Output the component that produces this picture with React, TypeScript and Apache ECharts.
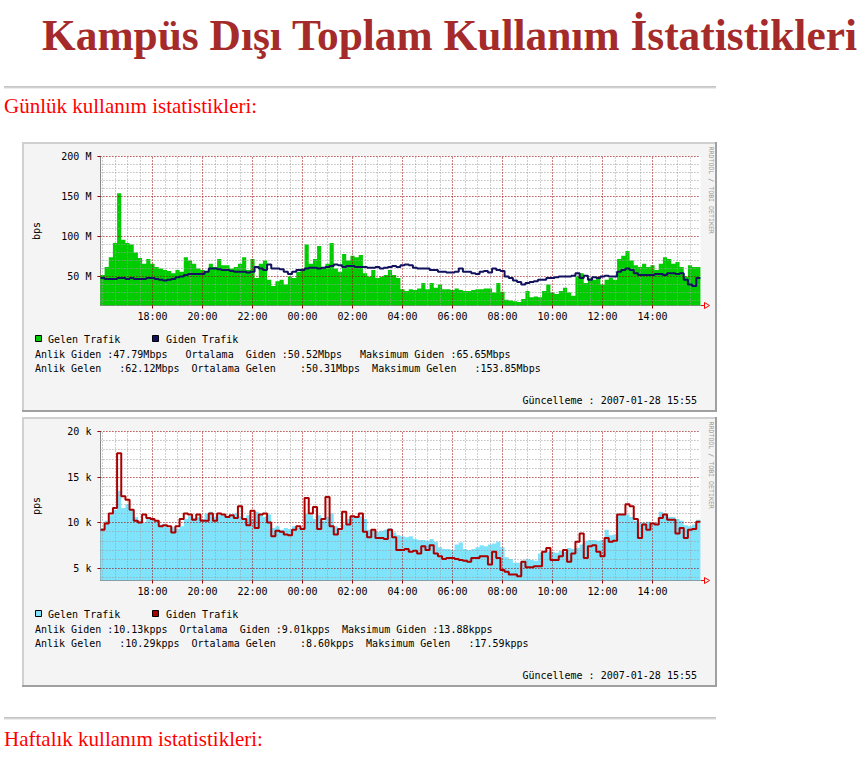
import React, { useEffect, useRef } from 'react';
import * as echarts from 'echarts';

const MONO = '"DejaVu Sans Mono", monospace';
const SERIF = '"Liberation Serif", "Times New Roman", serif';
const CHAR_W = 6.02;

// time axis in minutes since 00:00 of the first day (15:55 .. 15:55 next day)
const START_MIN = 955;
const STEP_MIN = 10;
const END_MIN = 2395;

const xTickLabels = ['18:00', '20:00', '22:00', '00:00', '02:00', '04:00', '06:00', '08:00', '10:00', '12:00', '14:00'];
const bpsTicks = [50, 100, 150, 200];
const ppsTicks = [5, 10, 15, 20];

const pageTitle = 'Kampüs Dışı Toplam Kullanım İstatistikleri';
const dailyHeading = 'Günlük kullanım istatistikleri:';
const weeklyHeading = 'Haftalık kullanım istatistikleri:';
const legendNames = ['Gelen Trafik', 'Giden Trafik'];
const updatedText = 'Güncelleme : 2007-01-28 15:55';
const watermark = 'RRDTOOL / TOBI OETIKER';

const bpsStats = [
  'Anlik Giden :47.79Mbps   Ortalama  Giden :50.52Mbps   Maksimum Giden :65.65Mbps',
  'Anlik Gelen   :62.12Mbps  Ortalama Gelen    :50.31Mbps  Maksimum Gelen   :153.85Mbps',
];
const ppsStats = [
  'Anlik Giden :10.13kpps  Ortalama  Giden :9.01kpps  Maksimum Giden :13.88kpps',
  'Anlik Gelen   :10.29kpps  Ortalama Gelen    :8.60kpps  Maksimum Gelen   :17.59kpps',
];

// Mbps, 10-minute steps from 15:55
const gelenBps = [
  52, 62, 74, 92, 154, 96, 92, 90, 80, 73,
  66, 72, 66, 62, 60, 58, 57, 54, 58, 56,
  74, 70, 66, 60, 58, 56, 66, 62, 72, 64,
  64, 60, 62, 66, 74, 58, 72, 48, 66, 70,
  46, 38, 44, 46, 40, 50, 48, 56, 60, 90,
  66, 72, 88, 62, 66, 92, 60, 56, 78, 70,
  76, 74, 77, 54, 50, 58, 48, 50, 52, 58,
  52, 48, 34, 32, 34, 33, 35, 42, 34, 42,
  36, 40, 34, 34, 33, 35, 33, 32, 32, 33,
  34, 34, 35, 35, 30, 42, 31, 21, 20, 19,
  18, 22, 32, 24, 25, 24, 32, 40, 30, 28,
  32, 36, 30, 26, 50, 54, 42, 48, 46, 50,
  40, 46, 48, 46, 72, 76, 82, 70, 64, 62,
  66, 62, 64, 58, 66, 74, 72, 66, 68, 62,
  50, 64, 62, 62,
];
const gidenBps = [
  48, 47, 47, 47, 48, 48, 47, 48, 47, 47, 47, 48,
  48, 47, 46, 45, 46, 47, 49, 50, 52, 53, 53, 53,
  53, 56, 60, 60, 59, 58, 58, 57, 56, 56, 56, 55,
  56, 62, 60, 58, 65, 60, 60, 59, 56, 53, 56, 58,
  58, 60, 61, 61, 60, 61, 62, 63, 65, 64, 62, 63,
  63, 62, 62, 62, 61, 61, 62, 60, 61, 62, 63, 62,
  64, 65, 64, 61, 60, 60, 60, 58, 58, 56, 56, 55,
  55, 56, 60, 56, 56, 54, 53, 56, 57, 55, 60, 58,
  57, 50, 48, 45, 43, 40, 42, 43, 44, 46, 46, 48,
  48, 49, 50, 50, 50, 51, 54, 48, 51, 46, 49, 48,
  50, 51, 50, 50, 56, 58, 60, 58, 54, 52, 52, 52,
  52, 53, 53, 52, 54, 54, 53, 54, 46, 40, 38, 48,
];
// kpps
const gelenPps = [
  9.4, 10.2, 10.8, 11.4, 13.5, 11.6, 12.0, 11.4, 10.6, 10.2,
  10.0, 10.4, 10.3, 10.2, 9.8, 9.6, 9.4, 9.5, 9.3, 9.6,
  10.4, 10.7, 10.5, 10.6, 10.4, 11.0, 11.2, 10.6, 10.8, 10.8,
  10.6, 10.8, 11.0, 10.7, 10.5, 10.8, 10.4, 11.2, 11.0, 10.6,
  10.9, 9.4, 9.6, 9.2, 9.4, 9.3, 9.6, 9.4, 9.5, 11.0,
  10.8, 10.4, 10.8, 10.2, 10.6, 11.0, 9.6, 9.4, 9.8, 10.4,
  10.6, 10.6, 10.7, 10.4, 9.2, 9.1, 9.0, 9.1, 9.2, 9.4,
  8.9, 8.6, 8.5, 8.4, 8.5, 8.2, 8.1, 8.1, 8.0, 8.2,
  7.9, 7.3, 7.1, 7.1, 7.0, 7.6, 7.8, 7.1, 7.0, 7.1,
  7.3, 7.5, 7.4, 7.6, 7.7, 7.9, 7.3, 6.2, 6.0, 5.6,
  5.6, 5.8, 6.0, 5.9, 5.8, 6.6, 6.8, 6.8, 6.8, 6.7,
  6.9, 6.8, 7.2, 7.1, 7.2, 7.6, 8.0, 8.1, 8.1, 8.0,
  8.1, 9.2, 8.6, 8.7, 10.8, 10.9, 10.9, 10.6, 10.2, 10.0,
  10.0, 10.1, 9.9, 10.0, 11.2, 11.0, 10.6, 10.6, 10.4, 10.2,
  9.7, 9.6, 9.8, 10.3,
];
const gidenPps = [
  9.2, 9.9, 11.0, 11.6, 17.6, 12.9, 12.5, 11.4, 10.2, 10.0,
  10.9, 10.5, 10.4, 10.2, 9.6, 9.7, 9.6, 8.9, 9.6, 10.4,
  11.0, 10.9, 10.3, 10.9, 10.2, 10.2, 11.0, 10.2, 11.0, 10.9,
  10.6, 10.8, 10.5, 11.8, 10.4, 9.7, 11.3, 9.4, 10.9, 11.0,
  10.0, 8.5, 9.1, 9.0, 8.7, 8.6, 9.2, 9.6, 9.3, 12.7,
  11.0, 11.7, 9.3, 10.4, 12.8, 9.6, 8.7, 9.3, 11.2, 9.8,
  10.7, 10.6, 11.0, 9.0, 8.4, 9.2, 8.3, 8.3, 8.2, 9.2,
  8.4, 7.0, 7.0, 7.1, 6.8, 6.9, 6.6, 7.4, 7.0, 7.5,
  6.6, 6.3, 6.0, 6.1, 6.1, 6.0, 5.9, 5.8, 5.7, 6.1,
  6.1, 6.3, 6.3, 5.4, 6.8, 6.1, 4.8, 4.6, 4.3, 4.3,
  4.1, 5.7, 5.1, 5.1, 5.2, 5.2, 6.8, 7.2, 5.9, 5.9,
  6.3, 7.0, 5.7, 6.6, 7.9, 8.8, 6.1, 7.4, 7.5, 6.8,
  6.3, 8.3, 7.9, 8.0, 10.9, 10.9, 12.0, 11.8, 10.4, 8.3,
  9.8, 9.2, 9.9, 9.8, 10.5, 10.9, 10.3, 10.3, 8.8, 9.4,
  8.3, 9.2, 9.3, 10.1,
];

const COLORS = {
  green: '#00cc00',
  navy: '#12125e',
  cyan: '#7fe3fb',
  red: '#aa0000',
};

const xTickValues = xTickLabels.map((l) => {
  const m = parseInt(l, 10) * 60;
  return m < START_MIN ? m + 1440 : m;
});

function toSteps(vals: number[]) {
  const pts: number[][] = vals.map((v, i) => [START_MIN + i * STEP_MIN, v]);
  pts.push([END_MIN, vals[vals.length - 1]]);
  return pts;
}

function gridLineData(yMin: number, yMax: number, yMinor: number, yMajors: number[]) {
  const minor = { color: '#9e9e9e', width: 1, type: [1, 2] };
  const major = { color: '#9a0000', width: 1, type: [1, 2] };
  const data: any[] = [];
  for (let m = 960; m < END_MIN; m += 30) {
    if (!xTickValues.includes(m)) data.push({ xAxis: m, lineStyle: minor });
  }
  const n0 = Math.ceil(yMin / yMinor);
  const n1 = Math.floor(yMax / yMinor);
  for (let n = n0; n <= n1; n++) {
    const v = n * yMinor;
    if (!yMajors.includes(v)) data.push({ yAxis: v, lineStyle: minor });
  }
  xTickValues.forEach((m) => data.push({ xAxis: m, lineStyle: major }));
  yMajors.forEach((v) => data.push({ yAxis: v, lineStyle: major }));
  return data;
}

function txt(x: number, y: number, s: string, extra: any = {}) {
  const align = extra.align || 'left';
  return {
    type: 'text', x, y, z: 10, silent: true,
    rotation: extra.rotation || 0,
    style: {
      text: s,
      fontFamily: extra.fontFamily || MONO,
      fontSize: extra.fontSize || 10,
      fontWeight: extra.fontWeight || 'normal',
      fill: extra.fill || '#000',
      align, textAlign: align,
      verticalAlign: 'middle', textVerticalAlign: 'middle',
    },
  };
}

function monoRow(x0: number, y: number, row: string) {
  const out: any[] = [];
  const re = /\S+/g;
  let m: RegExpExecArray | null;
  while ((m = re.exec(row))) out.push(txt(x0 + m.index * CHAR_W, y, m[0]));
  return out;
}

function ln(x1: number, y1: number, x2: number, y2: number, color: string, w: number, z = -1) {
  return { type: 'line', z, silent: true, shape: { x1, y1, x2, y2 }, style: { stroke: color, lineWidth: w } };
}

function panel(dy: number, c1: string, c2: string, stats: string[]) {
  const els: any[] = [];
  els.push({ type: 'rect', z: -2, silent: true, shape: { x: 22, y: 142 + dy, width: 695, height: 270 }, style: { fill: '#f4f4f4' } });
  els.push(ln(22, 143 + dy, 717, 143 + dy, '#d0d0d0', 2));
  els.push(ln(23, 142 + dy, 23, 412 + dy, '#d0d0d0', 2));
  els.push(ln(22, 411 + dy, 717, 411 + dy, '#a0a0a0', 2));
  els.push(ln(716, 142 + dy, 716, 412 + dy, '#a0a0a0', 2));
  els.push({ type: 'rect', z: 10, silent: true, shape: { x: 35.5, y: 335.5 + dy, width: 6, height: 6 }, style: { fill: c1, stroke: '#000', lineWidth: 1 } });
  els.push(txt(48, 339 + dy, legendNames[0]));
  els.push({ type: 'rect', z: 10, silent: true, shape: { x: 152.5, y: 335.5 + dy, width: 6, height: 6 }, style: { fill: c2, stroke: '#000', lineWidth: 1 } });
  els.push(txt(166, 339 + dy, legendNames[1]));
  els.push(...monoRow(35, 354.5 + dy, stats[0]));
  els.push(...monoRow(35, 368.5 + dy, stats[1]));
  els.push(txt(697, 400 + dy, updatedText, { align: 'right' }));
  els.push(txt(711, 146.5 + dy, watermark, { rotation: -Math.PI / 2, fontSize: 6.6, fill: '#9a9a9a' }));
  els.push({ type: 'polyline', z: 10, silent: true, shape: { points: [[701, 305.5 + dy], [704, 305.5 + dy]] }, style: { stroke: '#ff0000', lineWidth: 1, fill: 'none' } });
  els.push({ type: 'polygon', z: 10, silent: true, shape: { points: [[704.5, 302.5 + dy], [709.5, 305.5 + dy], [704.5, 308.5 + dy]] }, style: { stroke: '#ff0000', lineWidth: 1, fill: '#f4f4f4' } });
  return els;
}

function makeXAxis(gridIndex: number) {
  return {
    type: 'value', gridIndex, min: START_MIN, max: END_MIN,
    axisLine: { show: true, onZero: false, lineStyle: { color: '#888', width: 1 } },
    axisTick: { show: true, customValues: xTickValues, length: 3, lineStyle: { color: '#9a0000' } },
    axisLabel: {
      show: true, customValues: xTickValues, margin: 6,
      formatter: (v: number) => xTickLabels[xTickValues.indexOf(v)] ?? '',
      fontFamily: MONO, fontSize: 10, color: '#000',
    },
    splitLine: { show: false },
  };
}

function makeYAxis(gridIndex: number, min: number, max: number, ticks: number[], unit: string, name: string) {
  return {
    type: 'value', gridIndex, min, max,
    name, nameLocation: 'middle', nameGap: 59, nameRotate: 90,
    nameTextStyle: { fontFamily: MONO, fontSize: 10, color: '#000' },
    axisLine: { show: true, onZero: false, lineStyle: { color: '#888', width: 1 } },
    axisTick: { show: true, customValues: ticks, length: 3, lineStyle: { color: '#9a0000' } },
    axisLabel: {
      show: true, customValues: ticks, margin: 9,
      formatter: (v: number) => `${v} ${unit}`,
      fontFamily: MONO, fontSize: 10, color: '#000',
    },
    splitLine: { show: false },
  };
}

const BPS_MIN = 13.75, BPS_MAX = 200;
const PPS_MIN = 3.64, PPS_MAX = 20;

const markLineBase = { silent: true, symbol: 'none', label: { show: false }, animation: false };

const option: any = {
  animation: false,
  backgroundColor: '#ffffff',
  grid: [
    { left: 100.42, top: 156.5, width: 600, height: 149, show: true, backgroundColor: '#ffffff', borderWidth: 0 },
    { left: 100.42, top: 431.5, width: 600, height: 149, show: true, backgroundColor: '#ffffff', borderWidth: 0 },
  ],
  xAxis: [makeXAxis(0), makeXAxis(1)],
  yAxis: [
    makeYAxis(0, BPS_MIN, BPS_MAX, bpsTicks, 'M', 'bps'),
    makeYAxis(1, PPS_MIN, PPS_MAX, ppsTicks, 'k', 'pps'),
  ],
  series: [
    {
      name: legendNames[0], type: 'line', xAxisIndex: 0, yAxisIndex: 0, data: toSteps(gelenBps),
      step: 'end', symbol: 'none', z: 2, itemStyle: { color: COLORS.green },
      lineStyle: { width: 0, color: COLORS.green },
      areaStyle: { color: COLORS.green, opacity: 1, origin: 'start' },
      markLine: { ...markLineBase, data: gridLineData(BPS_MIN, BPS_MAX, 10, bpsTicks) },
    },
    {
      name: legendNames[1], type: 'line', xAxisIndex: 0, yAxisIndex: 0, data: toSteps(gidenBps),
      step: 'end', symbol: 'none', z: 6, itemStyle: { color: COLORS.navy },
      lineStyle: { width: 2, color: COLORS.navy },
    },
    {
      name: legendNames[0], type: 'line', xAxisIndex: 1, yAxisIndex: 1, data: toSteps(gelenPps),
      step: 'end', symbol: 'none', z: 2, itemStyle: { color: COLORS.cyan },
      lineStyle: { width: 0, color: COLORS.cyan },
      areaStyle: { color: COLORS.cyan, opacity: 1, origin: 'start' },
      markLine: { ...markLineBase, data: gridLineData(PPS_MIN, PPS_MAX, 1, ppsTicks) },
    },
    {
      name: legendNames[1], type: 'line', xAxisIndex: 1, yAxisIndex: 1, data: toSteps(gidenPps),
      step: 'end', symbol: 'none', z: 6, itemStyle: { color: COLORS.red },
      lineStyle: { width: 2, color: COLORS.red },
    },
  ],
  graphic: [
    txt(42, 34.7, pageTitle, { fontFamily: SERIF, fontSize: 43.4, fontWeight: 'bold', fill: '#a52a2a' }),
    ln(4, 87, 716, 87, '#8c8c8c', 1, 1),
    ln(4, 88, 716, 88, '#dcdcdc', 1, 1),
    txt(4, 105.6, dailyHeading, { fontFamily: SERIF, fontSize: 21, fill: '#ff0000' }),
    ...panel(0, COLORS.green, COLORS.navy, bpsStats),
    ...panel(275, COLORS.cyan, COLORS.red, ppsStats),
    ln(4, 718, 716, 718, '#8c8c8c', 1, 1),
    ln(4, 719, 716, 719, '#dcdcdc', 1, 1),
    txt(4, 739, weeklyHeading, { fontFamily: SERIF, fontSize: 21, fill: '#ff0000' }),
  ],
};

export default function App() {
  const ref = useRef<HTMLDivElement>(null);
  useEffect(() => {
    const chart = echarts.init(ref.current as HTMLDivElement, null, { renderer: 'svg' });
    chart.setOption(option);
    return () => chart.dispose();
  }, []);
  return <div ref={ref} style={{ position: 'absolute', left: 0, top: 0, width: 866, height: 765 }} />;
}
